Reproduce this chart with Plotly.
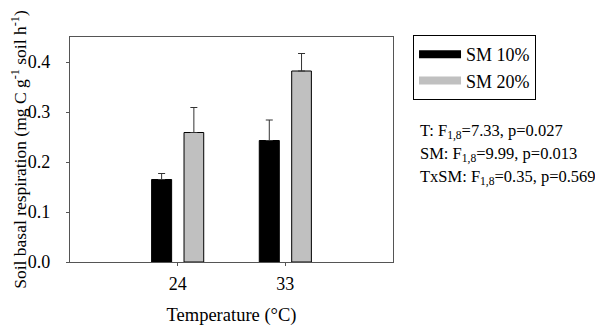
import plotly.graph_objects as go

temps = ["24", "33"]
sm10 = [0.165, 0.243]
sm10_err = [0.012, 0.041]
sm20 = [0.259, 0.382]
sm20_err = [0.050, 0.035]
series_names = ["SM 10%", "SM 20%"]
stats_lines = [
    "T: F<sub>1,8</sub>=7.33, p=0.027",
    "SM: F<sub>1,8</sub>=9.99, p=0.013",
    "TxSM: F<sub>1,8</sub>=0.35, p=0.569",
]

FONT = "Liberation Serif, Times New Roman, serif"
xpos = list(range(len(temps)))

fig = go.Figure()
fig.add_trace(go.Bar(
    x=xpos, y=sm10, name=series_names[0], showlegend=False,
    marker=dict(color="black", line=dict(color="black", width=1)),
    offset=-0.242, width=0.186,
    error_y=dict(type="data", array=sm10_err, arrayminus=[0] * len(sm10_err),
                 symmetric=False, color="#333333", thickness=1, width=3.5),
))
fig.add_trace(go.Bar(
    x=xpos, y=sm20, name=series_names[1], showlegend=False,
    marker=dict(color="#c0c0c0", line=dict(color="black", width=1)),
    offset=0.059, width=0.183,
    error_y=dict(type="data", array=sm20_err, arrayminus=[0] * len(sm20_err),
                 symmetric=False, color="#333333", thickness=1, width=3.5),
))
# legend entries (wide swatches like the original)
fig.add_trace(go.Scatter(x=[None], y=[None], mode="lines", name=series_names[0],
                         line=dict(color="black", width=8)))
fig.add_trace(go.Scatter(x=[None], y=[None], mode="lines", name=series_names[1],
                         line=dict(color="#c0c0c0", width=8)))

for i, s in enumerate(stats_lines):
    fig.add_annotation(xref="paper", yref="paper", x=1.078, y=0.578 - i * 0.1022,
                       xanchor="left", yanchor="middle", showarrow=False,
                       text=s, font=dict(family=FONT, size=16.5, color="black"))

# the page body adds an 8px offset, so the figure is sized/margined to compensate
fig.update_layout(
    width=595, height=318,
    margin=dict(l=62, r=210, t=29, b=64),
    paper_bgcolor="white", plot_bgcolor="white",
    barmode="overlay",
    font=dict(family=FONT, size=18, color="black"),
    showlegend=True,
    legend=dict(x=1.062, y=1.009, xanchor="left", yanchor="top",
                bordercolor="black", borderwidth=1, bgcolor="white",
                font=dict(family=FONT, size=18), tracegroupgap=0,
                itemwidth=42),
    xaxis=dict(range=[-1, 2], tickvals=xpos, ticktext=temps,
               showgrid=False, zeroline=False, automargin=False,
               showline=True, linecolor="#555555", linewidth=1.3, mirror=True,
               ticks="outside", ticklen=3, tickcolor="#555555",
               tickfont=dict(size=18), ticklabelstandoff=2,
               title=dict(text="Temperature (°C)", standoff=16, font=dict(size=18.5))),
    yaxis=dict(range=[0, 0.45], tickvals=[0, 0.1, 0.2, 0.3, 0.4],
               ticktext=["0.0", "0.1", "0.2", "0.3", "0.4"],
               showgrid=False, zeroline=False, automargin=False,
               showline=True, linecolor="#555555", linewidth=1.3, mirror=True,
               ticks="outside", ticklen=3, tickcolor="#555555",
               tickfont=dict(size=18), ticklabelstandoff=12,
               title=dict(text="Soil basal respiration (mg C g<sup>-1</sup> soil h<sup>-1</sup>)",
                          standoff=5, font=dict(size=17.5))),
)

fig.write_html("out.html")
